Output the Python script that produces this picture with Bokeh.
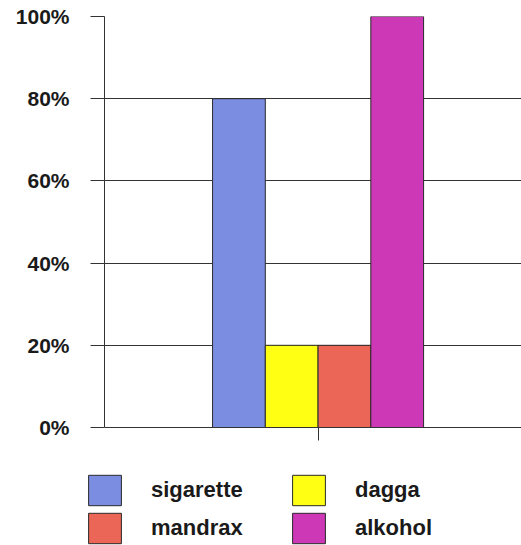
from bokeh.plotting import figure
from bokeh.layouts import column
from bokeh.models import (ColumnDataSource, Range1d, FixedTicker, Legend, LegendItem)
from bokeh.embed import file_html
from bokeh.resources import INLINE

# ---- data ----
series = ["sigarette", "dagga", "mandrax", "alkohol"]
values = [80, 20, 20, 100]
colors = ["#7b8de0", "#ffff14", "#eb6656", "#cc38b6"]
y_ticks = [0, 20, 40, 60, 80, 100]
y_tick_labels = ["0%", "20%", "40%", "60%", "80%", "100%"]
category_center = 0.0
bar_width = 0.25

n = len(series)
xs = [category_center + (i - (n - 1) / 2) * bar_width for i in range(n)]

W = 521
H_TOP = 460
H_LEG = 545 - H_TOP

p = figure(width=W, height=H_TOP, output_backend="svg", toolbar_location=None,
           x_range=Range1d(-1.012, 0.964), y_range=Range1d(0, 100),
           min_border_left=104, min_border_right=0, min_border_top=16,
           min_border_bottom=H_TOP - 427)
p.outline_line_color = None
p.background_fill_color = "white"
p.border_fill_color = "white"

sources = []
for i, s in enumerate(series):
    src = ColumnDataSource(dict(x=[xs[i]], top=[values[i]]))
    sources.append(src)
    p.vbar(x="x", top="top", bottom=0, width=bar_width, source=src,
           fill_color=colors[i], line_color="#2a2a2a", line_width=1)

# y axis
yax = p.yaxis[0]
yax.ticker = FixedTicker(ticks=y_ticks)
yax.major_label_overrides = {t: l for t, l in zip(y_ticks, y_tick_labels)}
yax.major_tick_out = 14
yax.major_tick_in = 0
yax.minor_tick_out = 0
yax.minor_tick_in = 0
yax.major_label_standoff = 21
yax.major_label_text_font = "Liberation Sans"
yax.major_label_text_font_style = "bold"
yax.major_label_text_font_size = "21px"
yax.major_label_text_color = "#1a1a1a"
yax.axis_line_color = "#333333"
yax.major_tick_line_color = "#333333"

# x axis
xax = p.xaxis[0]
xax.ticker = FixedTicker(ticks=[category_center])
xax.major_label_overrides = {category_center: ""}
xax.major_label_text_font_size = "0px"
xax.major_tick_out = 13
xax.major_tick_in = 0
xax.minor_tick_out = 0
xax.minor_tick_in = 0
xax.axis_line_color = "#333333"
xax.major_tick_line_color = "#333333"

p.xgrid.grid_line_color = None
p.ygrid.ticker = FixedTicker(ticks=y_ticks)
p.ygrid.grid_line_color = "#333333"
p.ygrid.grid_line_alpha = 1.0

# ---- legend figure (only hosts the legend; its bars lie outside its ranges) ----
lg = figure(width=W, height=H_LEG, output_backend="svg", toolbar_location=None,
            x_range=Range1d(1000, 1000 + W), y_range=Range1d(1000, 1000 + H_LEG),
            x_axis_type=None, y_axis_type=None,
            min_border_left=0, min_border_right=0, min_border_top=0,
            min_border_bottom=0)
lg.outline_line_color = None
lg.xgrid.visible = False
lg.ygrid.visible = False

for fig in (p, lg):
    if "frame_align" in fig.properties():
        fig.frame_align = False

leg_renderers = []
for i, s in enumerate(series):
    r = lg.vbar(x="x", top="top", width=bar_width, bottom=0, source=sources[i],
                fill_color=colors[i], line_color="#2a2a2a", line_width=1)
    leg_renderers.append(r)

items = [LegendItem(label=s, renderers=[r]) for s, r in zip(series, leg_renderers)]
legend = Legend(items=items, orientation="horizontal", ncols=2,
                location=(84, -2),
                glyph_width=41, glyph_height=38, label_height=38,
                label_width=137, label_standoff=26, spacing=0, padding=0,
                margin=0, border_line_color=None, background_fill_alpha=0,
                label_text_font="Liberation Sans", label_text_font_style="bold",
                label_text_font_size="22px", label_text_color="#1a1a1a")
lg.add_layout(legend, "center")

layout = column(p, lg, spacing=0)
open("out.html", "w").write(file_html(layout, INLINE))
